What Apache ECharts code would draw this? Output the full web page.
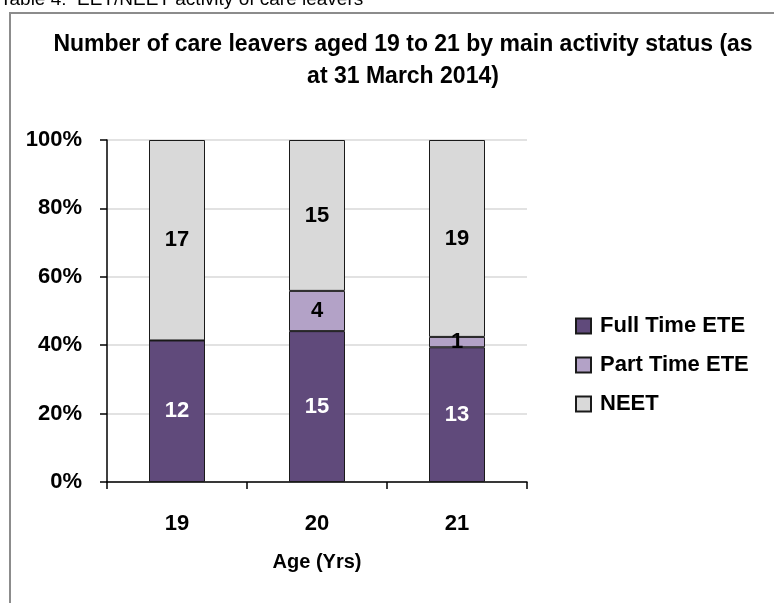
<!DOCTYPE html>
<html>
<head>
<meta charset="utf-8">
<script src="https://cdn.jsdelivr.net/npm/echarts@6/dist/echarts.min.js"></script>
<style>
html,body{margin:0;padding:0;background:#fff;}
#c{width:774px;height:603px;}
</style>
</head>
<body>
<div id="c"></div>
<script>
const categories = ['19', '20', '21'];
const fullTime = [12, 15, 13];
const partTime = [0, 4, 1];
const neet = [17, 15, 19];
const yTicks = [0, 20, 40, 60, 80, 100];

const totals = categories.map((c, i) => fullTime[i] + partTime[i] + neet[i]);
const pct = (arr) => arr.map((v, i) => ({ value: v / totals[i] * 100, count: v }));

const FONT = '"Liberation Sans", Arial, sans-serif';
const chart = echarts.init(document.getElementById('c'));

function mk(name, arr, color, labelColor) {
  return {
    name: name,
    type: 'bar',
    stack: 'all',
    barWidth: '40%',
    data: pct(arr),
    itemStyle: { color: color, borderColor: '#1a1a1a', borderWidth: 1 },
    label: {
      show: true,
      position: 'inside',
      color: labelColor,
      fontFamily: FONT,
      fontWeight: 'bold',
      fontSize: 22,
      formatter: p => p.data.count === 0 ? '' : String(p.data.count)
    }
  };
}

chart.setOption({
  animation: false,
  backgroundColor: '#fff',
  title: {
    text: 'Number of care leavers aged 19 to 21 by main activity status (as\nat 31 March 2014)',
    left: 398,
    textAlign: 'center',
    top: 24,
    textStyle: { fontFamily: FONT, fontWeight: 'bold', fontSize: 23, lineHeight: 32, color: '#000' }
  },
  graphic: [
    { type: 'text', left: 0, top: -10, style: { text: 'Table 4:  EET/NEET activity of care leavers', fontFamily: FONT, fontSize: 19, fill: '#000' } },
    { type: 'rect', shape: { x: 10, y: 13, width: 800, height: 700 }, style: { fill: 'none', stroke: '#8c8c8c', lineWidth: 2 } }
  ],
  legend: {
    orient: 'vertical',
    left: 570,
    top: 310,
    itemWidth: 15,
    itemHeight: 15,
    itemGap: 17,
    icon: 'rect',
    textStyle: { fontFamily: FONT, fontWeight: 'bold', fontSize: 22, color: '#000', padding: [0, 0, 0, 4] },
    data: ['Full Time ETE', 'Part Time ETE', 'NEET']
  },
  grid: { left: 107, top: 140, width: 420, height: 342, containLabel: false },
  xAxis: {
    type: 'category',
    data: categories,
    name: 'Age (Yrs)',
    nameLocation: 'middle',
    nameGap: 70,
    nameTextStyle: { fontFamily: FONT, fontWeight: 'bold', fontSize: 20, color: '#000' },
    axisLine: { lineStyle: { color: '#000', width: 1.5 } },
    axisTick: { show: true, length: 7, lineStyle: { color: '#000', width: 1.5 } },
    axisLabel: { margin: 31, fontFamily: FONT, fontWeight: 'bold', fontSize: 22, color: '#000' }
  },
  yAxis: {
    type: 'value',
    min: 0,
    max: 100,
    interval: 20,
    axisLine: { show: true, lineStyle: { color: '#000', width: 1.5 } },
    axisTick: { show: true, length: 7, lineStyle: { color: '#000', width: 1.5 } },
    splitLine: { lineStyle: { color: '#d9d9d9', width: 1.5 } },
    axisLabel: {
      margin: 25, fontFamily: FONT, fontWeight: 'bold', fontSize: 22, color: '#000',
      formatter: v => yTicks.includes(v) ? v + '%' : ''
    }
  },
  series: [
    mk('Full Time ETE', fullTime, '#604a7b', '#fff'),
    mk('Part Time ETE', partTime, '#b3a2c7', '#000'),
    mk('NEET', neet, '#d9d9d9', '#000')
  ]
});
</script>
</body>
</html>
